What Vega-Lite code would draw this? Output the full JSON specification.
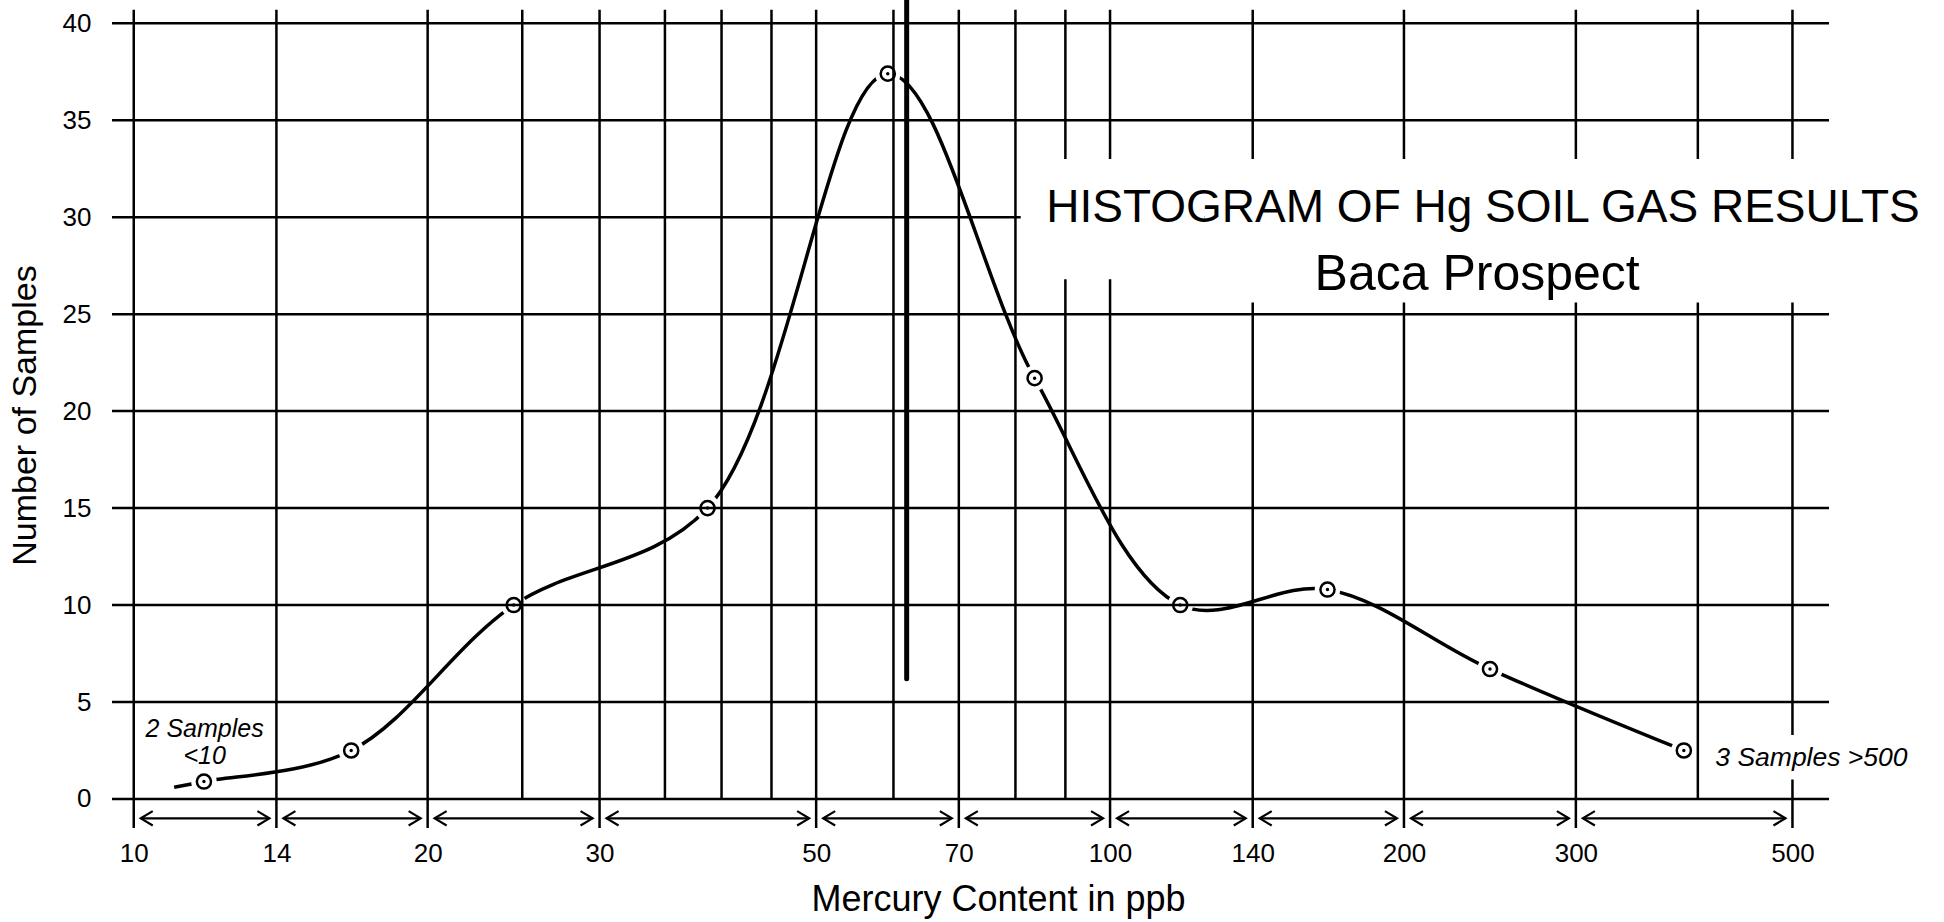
{
  "$schema": "https://vega.github.io/schema/vega-lite/v6.json",
  "width": 1717,
  "height": 830,
  "autosize": {"type": "none"},
  "padding": {"left": 112, "top": 0, "right": 115, "bottom": 92},
  "background": "white",
  "config": {"view": {"stroke": null}, "font": "Liberation Sans"},
  "datasets": {
    "points": [
      {"x": 11.8, "y": 0.9}, {"x": 16.7, "y": 2.5}, {"x": 24.5, "y": 10.0}, {"x": 38.7, "y": 15.0},
      {"x": 59.2, "y": 37.4}, {"x": 83.7, "y": 21.7}, {"x": 118, "y": 10.0}, {"x": 167, "y": 10.8},
      {"x": 245, "y": 6.7}, {"x": 387, "y": 2.5}
    ],
    "curve": [
      {"x": 11.0, "y": 0.6}, {"x": 11.8, "y": 0.9}, {"x": 16.7, "y": 2.5}, {"x": 24.5, "y": 10.0}, {"x": 38.7, "y": 15.0},
      {"x": 59.2, "y": 37.4}, {"x": 83.7, "y": 21.7}, {"x": 118, "y": 10.0}, {"x": 167, "y": 10.8},
      {"x": 245, "y": 6.7}, {"x": 387, "y": 2.5}
    ],
    "majorLines": [{"v": 10}, {"v": 14}, {"v": 20}, {"v": 30}, {"v": 50}, {"v": 70}, {"v": 100}, {"v": 140}, {"v": 200}, {"v": 300}, {"v": 500}],
    "minorLines": [{"v": 25}, {"v": 35}, {"v": 40}, {"v": 45}, {"v": 60}, {"v": 80}, {"v": 90}, {"v": 400}],
    "hLines": [{"n": 0}, {"n": 5}, {"n": 10}, {"n": 15}, {"n": 20}, {"n": 25}, {"n": 30}, {"n": 35}, {"n": 40}],
    "bins": [
      {"lo": 10, "hi": 14}, {"lo": 14, "hi": 20}, {"lo": 20, "hi": 30}, {"lo": 30, "hi": 50}, {"lo": 50, "hi": 70},
      {"lo": 70, "hi": 100}, {"lo": 100, "hi": 140}, {"lo": 140, "hi": 200}, {"lo": 200, "hi": 300}, {"lo": 300, "hi": 500}
    ]
  },
  "layer": [
    {
      "data": {"name": "curve"},
      "mark": {"type": "line", "interpolate": "catmull-rom", "stroke": "black", "strokeWidth": 3.5},
      "encoding": {
        "x": {
          "field": "x", "type": "quantitative",
          "scale": {"type": "log", "domain": [9.5, 545], "nice": false},
          "axis": {
            "values": [10, 14, 20, 30, 50, 70, 100, 140, 200, 300, 500],
            "format": "d", "domain": false, "ticks": false, "grid": false,
            "labelFontSize": 26, "labelPadding": 10, "labelColor": "black", "labelOverlap": false, "labelFlush": false,
            "title": "Mercury Content in ppb", "titleFontSize": 36, "titleFontWeight": "normal", "titleColor": "black",
            "titleX": 886, "titleY": 69, "titleBaseline": "middle", "titleAlign": "center"
          }
        },
        "y": {
          "field": "y", "type": "quantitative",
          "scale": {"domain": [-1.6, 41.2], "nice": false, "zero": false},
          "axis": {
            "values": [0, 5, 10, 15, 20, 25, 30, 35, 40],
            "domain": false, "ticks": false, "grid": false,
            "labelFontSize": 26, "labelPadding": 21, "labelColor": "black",
            "title": "Number of Samples", "titleFontSize": 34, "titleFontWeight": "normal", "titleColor": "black",
            "titleX": -87, "titleY": 415, "titleBaseline": "middle", "titleAlign": "center", "titleAngle": -90
          }
        }
      }
    },
    {
      "data": {"name": "points"},
      "mark": {"type": "point", "shape": "circle", "filled": true, "fill": "white", "strokeWidth": 0, "size": 650, "opacity": 1},
      "encoding": {"x": {"field": "x", "type": "quantitative"}, "y": {"field": "y", "type": "quantitative"}}
    },
    {
      "data": {"name": "minorLines"},
      "mark": {"type": "rule", "stroke": "black", "strokeWidth": 2.5},
      "encoding": {"x": {"field": "v", "type": "quantitative"}, "y": {"datum": 40.7}, "y2": {"datum": 0}}
    },
    {
      "data": {"name": "majorLines"},
      "mark": {"type": "rule", "stroke": "black", "strokeWidth": 2.5},
      "encoding": {"x": {"field": "v", "type": "quantitative"}, "y": {"datum": 40.7}, "y2": {"datum": -1.5}}
    },
    {
      "data": {"name": "hLines"},
      "mark": {"type": "rule", "stroke": "black", "strokeWidth": 2.5},
      "encoding": {"x": {"datum": 9.5}, "x2": {"datum": 545}, "y": {"field": "n", "type": "quantitative"}}
    },
    {
      "data": {"values": [{}]},
      "mark": {"type": "rect", "fill": "white"},
      "encoding": {"x": {"datum": 81}, "x2": {"datum": 125}, "y": {"datum": 33}, "y2": {"datum": 26.8}}
    },
    {
      "data": {"values": [{}]},
      "mark": {"type": "rect", "fill": "white"},
      "encoding": {"x": {"datum": 125}, "x2": {"datum": 560}, "y": {"datum": 33}, "y2": {"datum": 25.6}}
    },
    {
      "data": {"values": [{}]},
      "mark": {"type": "rect", "fill": "white"},
      "encoding": {"x": {"datum": 408}, "x2": {"datum": 690}, "y": {"datum": 3.3}, "y2": {"datum": 1.0}}
    },
    {
      "data": {"name": "bins"},
      "mark": {"type": "rule", "stroke": "black", "strokeWidth": 2.2, "xOffset": 7, "x2Offset": -7},
      "encoding": {"x": {"field": "lo", "type": "quantitative"}, "x2": {"field": "hi"}, "y": {"datum": -1.0}}
    },
    {
      "data": {"name": "bins"},
      "mark": {"type": "point", "shape": "M2,-1.2L0,0L2,1.2", "filled": false, "stroke": "black", "strokeWidth": 2.2, "size": 144, "xOffset": 7, "opacity": 1},
      "encoding": {"x": {"field": "lo", "type": "quantitative"}, "y": {"datum": -1.0}}
    },
    {
      "data": {"name": "bins"},
      "mark": {"type": "point", "shape": "M-2,-1.2L0,0L-2,1.2", "filled": false, "stroke": "black", "strokeWidth": 2.2, "size": 144, "xOffset": -7, "opacity": 1},
      "encoding": {"x": {"field": "hi", "type": "quantitative"}, "y": {"datum": -1.0}}
    },
    {
      "data": {"values": [{}]},
      "mark": {"type": "rule", "stroke": "black", "strokeWidth": 5, "strokeCap": "round"},
      "encoding": {"x": {"datum": 61.9}, "y": {"datum": 41.2}, "y2": {"datum": 6.2}}
    },
    {
      "data": {"name": "points"},
      "mark": {"type": "point", "shape": "circle", "filled": false, "stroke": "black", "strokeWidth": 2.5, "size": 200, "opacity": 1},
      "encoding": {"x": {"field": "x", "type": "quantitative"}, "y": {"field": "y", "type": "quantitative"}}
    },
    {
      "data": {"name": "points"},
      "mark": {"type": "point", "shape": "circle", "filled": true, "fill": "black", "strokeWidth": 0, "size": 12, "opacity": 1},
      "encoding": {"x": {"field": "x", "type": "quantitative"}, "y": {"field": "y", "type": "quantitative"}}
    },
    {
      "data": {"values": [{"label": "HISTOGRAM OF Hg SOIL GAS RESULTS"}]},
      "mark": {"type": "text", "fontSize": 46, "align": "center", "baseline": "middle", "color": "black"},
      "encoding": {"x": {"datum": 241}, "y": {"datum": 30.5}, "text": {"field": "label"}}
    },
    {
      "data": {"values": [{"label": "Baca Prospect"}]},
      "mark": {"type": "text", "fontSize": 50, "align": "center", "baseline": "middle", "color": "black"},
      "encoding": {"x": {"datum": 237.7}, "y": {"datum": 27.0}, "text": {"field": "label"}}
    },
    {
      "data": {"values": [{"label": "2 Samples"}]},
      "mark": {"type": "text", "fontSize": 25, "fontStyle": "italic", "align": "center", "baseline": "middle", "color": "black"},
      "encoding": {"x": {"datum": 11.82}, "y": {"datum": 3.6}, "text": {"field": "label"}}
    },
    {
      "data": {"values": [{"label": "<10"}]},
      "mark": {"type": "text", "fontSize": 25, "fontStyle": "italic", "align": "center", "baseline": "middle", "color": "black"},
      "encoding": {"x": {"datum": 11.82}, "y": {"datum": 2.2}, "text": {"field": "label"}}
    },
    {
      "data": {"values": [{"label": "3 Samples >500"}]},
      "mark": {"type": "text", "fontSize": 26.5, "fontStyle": "italic", "align": "left", "baseline": "middle", "color": "black"},
      "encoding": {"x": {"datum": 416.8}, "y": {"datum": 2.1}, "text": {"field": "label"}}
    }
  ]
}
